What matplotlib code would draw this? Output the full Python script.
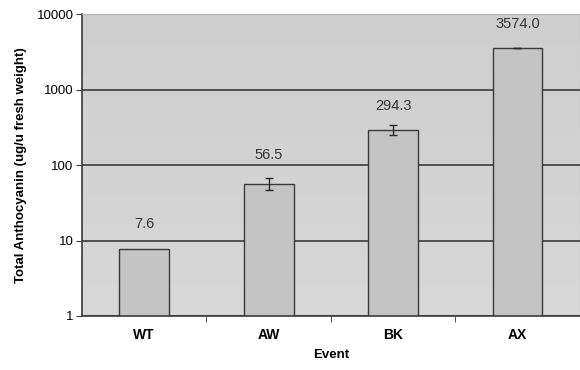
import matplotlib.pyplot as plt
import numpy as np

plt.rcParams['font.family'] = ['Liberation Sans', 'DejaVu Sans']

events = ["WT", "AW", "BK", "AX"]
anthocyanin = [7.6, 56.5, 294.3, 3574.0]
errors = [0, 10, 45, 30]
labels = ["7.6", "56.5", "294.3", "3574.0"]

fig = plt.figure(figsize=(5.8, 3.7), dpi=100)
ax = fig.add_axes([0.1414, 0.146, 0.858, 0.816])

# soft vertical gradient for the plot area
grad = np.linspace(0, 1, 256).reshape(-1, 1)
ax.imshow(grad, extent=[0, 1, 0, 1], transform=ax.transAxes, aspect='auto',
          cmap=plt.matplotlib.colors.LinearSegmentedColormap.from_list('bg', ['#d8d8d8', '#cecece']),
          origin='lower', zorder=0)

x = np.arange(len(events))
ax.set_yscale('log')
ax.set_ylim(1, 10000)
ax.set_xlim(-0.5, len(events) - 0.5)

ax.grid(axis='y', which='major', color='#3a3a3a', linewidth=1.2, zorder=1)
ax.set_axisbelow(True)

ax.bar(x, anthocyanin, width=0.4, color='#c4c4c4', edgecolor='#3a3a3a',
       linewidth=1.0, zorder=2)
ax.errorbar(x[1:], anthocyanin[1:], yerr=errors[1:], fmt='none', ecolor='#2a2a2a',
            elinewidth=1.0, capsize=3, capthick=1.0, zorder=3)

# Excel puts the AW label a bit higher
offsets = [18, 21, 17, 17]
for xi, v, lab, off in zip(x, anthocyanin, labels, offsets):
    ax.annotate(lab, (xi, v), xytext=(0, off), textcoords='offset points',
                ha='center', va='center', fontsize=10.5, color='#333333')

ax.set_xticks(x)
ax.set_xticklabels(events, fontsize=10, fontweight='bold')
ax.set_xticks(x[:-1] + 0.5, minor=True)
ax.tick_params(axis='x', which='major', length=0, pad=9)
ax.tick_params(axis='x', which='minor', length=4, color='#3a3a3a')
ax.set_yticks([1, 10, 100, 1000, 10000])
ax.set_yticklabels(["1", "10", "100", "1000", "10000"], fontsize=9.5)
ax.yaxis.set_minor_locator(plt.NullLocator())
ax.tick_params(axis='y', which='major', length=4, color='#3a3a3a', pad=2)

for side in ['left', 'bottom']:
    ax.spines[side].set_color('#3a3a3a')
    ax.spines[side].set_linewidth(1.2)
for side in ['top', 'right']:
    ax.spines[side].set_color('#b0b0b0')

ax.set_xlabel("Event", fontsize=9.5, fontweight='bold', labelpad=5)
ax.set_ylabel("Total Anthocyanin (ug/u fresh weight)", fontsize=9.5, fontweight='bold', labelpad=7)

fig.savefig("out.png", dpi=100)
